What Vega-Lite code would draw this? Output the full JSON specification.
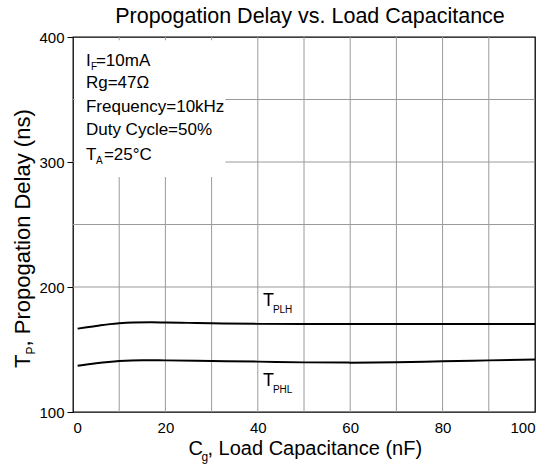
{
  "$schema": "https://vega.github.io/schema/vega-lite/v6.json",
  "width": 462,
  "height": 375,
  "autosize": {"type": "none"},
  "padding": {"left": 73, "top": 37, "right": 17, "bottom": 54},
  "title": {
    "text": "Propogation Delay vs. Load Capacitance",
    "font": "Liberation Sans",
    "fontSize": 21.5,
    "fontWeight": "normal",
    "color": "black",
    "frame": "group",
    "offset": 2.5,
    "dx": 6
  },
  "config": {
    "view": {"stroke": "black", "strokeWidth": 1.3},
    "font": "Liberation Sans",
    "text": {"font": "Liberation Sans", "color": "black", "align": "left", "baseline": "alphabetic"}
  },
  "layer": [
    {
      "data": {"values": [{"g": 10}, {"g": 20}, {"g": 30}, {"g": 40}, {"g": 50}, {"g": 60}, {"g": 70}, {"g": 80}, {"g": 90}]},
      "mark": {"type": "rule", "color": "#9a9a9a", "strokeWidth": 1},
      "encoding": {
        "x": {
          "field": "g", "type": "quantitative",
          "scale": {"domain": [0, 100]},
          "axis": {"values": [0, 20, 40, 60, 80, 100], "grid": false, "ticks": false, "domain": false,
                   "labelPadding": 8.5, "labelFontSize": 15, "labelColor": "black", "labelFont": "Liberation Sans", "title": null}
        }
      }
    },
    {
      "data": {"values": [{"g": 200}, {"g": 250}, {"g": 300}, {"g": 350}]},
      "mark": {"type": "rule", "color": "#9a9a9a", "strokeWidth": 1},
      "encoding": {
        "y": {
          "field": "g", "type": "quantitative",
          "scale": {"domain": [100, 400]},
          "axis": {"values": [100, 200, 300, 400], "grid": false, "tickSize": 6, "tickColor": "black", "domain": false,
                   "labelPadding": 3, "labelFontSize": 15, "labelColor": "black", "labelFont": "Liberation Sans", "title": null}
        }
      }
    },
    {
      "data": {"values": [{"box": "conditions"}]},
      "mark": {"type": "rect", "fill": "white", "stroke": null},
      "encoding": {
        "x": {"datum": 0.3}, "x2": {"datum": 33},
        "y": {"datum": 288}, "y2": {"datum": 397.5}
      }
    },
    {
      "data": {"values": [
        {"series": "TPLH", "cap": 1, "delay": 166.7},
        {"series": "TPLH", "cap": 3, "delay": 167.8},
        {"series": "TPLH", "cap": 5, "delay": 168.8},
        {"series": "TPLH", "cap": 8, "delay": 170.3},
        {"series": "TPLH", "cap": 10, "delay": 171},
        {"series": "TPLH", "cap": 13, "delay": 171.6},
        {"series": "TPLH", "cap": 17, "delay": 171.8},
        {"series": "TPLH", "cap": 20, "delay": 171.6},
        {"series": "TPLH", "cap": 25, "delay": 171.3},
        {"series": "TPLH", "cap": 30, "delay": 171},
        {"series": "TPLH", "cap": 40, "delay": 170.5},
        {"series": "TPLH", "cap": 50, "delay": 170.4},
        {"series": "TPLH", "cap": 60, "delay": 170.4},
        {"series": "TPLH", "cap": 70, "delay": 170.4},
        {"series": "TPLH", "cap": 80, "delay": 170.4},
        {"series": "TPLH", "cap": 90, "delay": 170.4},
        {"series": "TPLH", "cap": 100, "delay": 170.4},
        {"series": "TPHL", "cap": 1, "delay": 137},
        {"series": "TPHL", "cap": 5, "delay": 139},
        {"series": "TPHL", "cap": 10, "delay": 140.8},
        {"series": "TPHL", "cap": 15, "delay": 141.5},
        {"series": "TPHL", "cap": 20, "delay": 141.3},
        {"series": "TPHL", "cap": 30, "delay": 140.8},
        {"series": "TPHL", "cap": 40, "delay": 140.3},
        {"series": "TPHL", "cap": 50, "delay": 139.7},
        {"series": "TPHL", "cap": 60, "delay": 139.5},
        {"series": "TPHL", "cap": 70, "delay": 139.8},
        {"series": "TPHL", "cap": 80, "delay": 140.6},
        {"series": "TPHL", "cap": 90, "delay": 141.3},
        {"series": "TPHL", "cap": 100, "delay": 142}
      ]},
      "mark": {"type": "line", "color": "black", "strokeWidth": 2, "interpolate": "monotone"},
      "encoding": {
        "x": {"field": "cap", "type": "quantitative"},
        "y": {"field": "delay", "type": "quantitative"},
        "detail": {"field": "series"}
      }
    },
    {
      "data": {"values": [
        {"t": "I", "cap": 2.8, "delay": 377},
        {"t": "Rg=47Ω", "cap": 2.8, "delay": 359},
        {"t": "Frequency=10kHz", "cap": 2.8, "delay": 340.2},
        {"t": "Duty Cycle=50%", "cap": 2.8, "delay": 321.6},
        {"t": "T", "cap": 2.8, "delay": 302}
      ]},
      "mark": {"type": "text", "fontSize": 17},
      "encoding": {
        "x": {"field": "cap", "type": "quantitative"},
        "y": {"field": "delay", "type": "quantitative"},
        "text": {"field": "t"}
      }
    },
    {
      "data": {"values": [{"t": "F"}]},
      "mark": {"type": "text", "fontSize": 10, "dx": 5, "dy": 4.5},
      "encoding": {"x": {"datum": 2.8}, "y": {"datum": 377}, "text": {"field": "t"}}
    },
    {
      "data": {"values": [{"t": "=10mA"}]},
      "mark": {"type": "text", "fontSize": 17, "dx": 10},
      "encoding": {"x": {"datum": 2.8}, "y": {"datum": 377}, "text": {"field": "t"}}
    },
    {
      "data": {"values": [{"t": "A"}]},
      "mark": {"type": "text", "fontSize": 10, "dx": 10, "dy": 4.5},
      "encoding": {"x": {"datum": 2.8}, "y": {"datum": 302}, "text": {"field": "t"}}
    },
    {
      "data": {"values": [{"t": "=25°C"}]},
      "mark": {"type": "text", "fontSize": 17, "dx": 18},
      "encoding": {"x": {"datum": 2.8}, "y": {"datum": 302}, "text": {"field": "t"}}
    },
    {
      "data": {"values": [{"t": "T", "cap": 41.1, "delay": 184.8}, {"t": "T", "cap": 41.1, "delay": 120.8}]},
      "mark": {"type": "text", "fontSize": 18},
      "encoding": {
        "x": {"field": "cap", "type": "quantitative"},
        "y": {"field": "delay", "type": "quantitative"},
        "text": {"field": "t"}
      }
    },
    {
      "data": {"values": [{"t": "PLH", "cap": 41.1, "delay": 184.8}, {"t": "PHL", "cap": 41.1, "delay": 120.8}]},
      "mark": {"type": "text", "fontSize": 10, "dx": 10, "dy": 6.5},
      "encoding": {
        "x": {"field": "cap", "type": "quantitative"},
        "y": {"field": "delay", "type": "quantitative"},
        "text": {"field": "t"}
      }
    },
    {
      "data": {"values": [{"t": "C"}]},
      "mark": {"type": "text", "fontSize": 20},
      "encoding": {"x": {"datum": 25}, "y": {"datum": 65.6}, "text": {"field": "t"}}
    },
    {
      "data": {"values": [{"t": "g"}]},
      "mark": {"type": "text", "fontSize": 12, "dx": 13, "dy": 6},
      "encoding": {"x": {"datum": 25}, "y": {"datum": 65.6}, "text": {"field": "t"}}
    },
    {
      "data": {"values": [{"t": ", Load Capacitance (nF)"}]},
      "mark": {"type": "text", "fontSize": 20, "dx": 19},
      "encoding": {"x": {"datum": 25}, "y": {"datum": 65.6}, "text": {"field": "t"}}
    },
    {
      "data": {"values": [{"t": "T"}]},
      "mark": {"type": "text", "fontSize": 22, "angle": 270},
      "encoding": {"x": {"datum": -9.3}, "y": {"datum": 135.2}, "text": {"field": "t"}}
    },
    {
      "data": {"values": [{"t": "P"}]},
      "mark": {"type": "text", "fontSize": 12, "angle": 270, "dx": 13.5, "dy": 5},
      "encoding": {"x": {"datum": -9.3}, "y": {"datum": 135.2}, "text": {"field": "t"}}
    },
    {
      "data": {"values": [{"t": ", Propogation Delay (ns)"}]},
      "mark": {"type": "text", "fontSize": 22, "angle": 270, "dx": 21.5},
      "encoding": {"x": {"datum": -9.3}, "y": {"datum": 135.2}, "text": {"field": "t"}}
    }
  ]
}
